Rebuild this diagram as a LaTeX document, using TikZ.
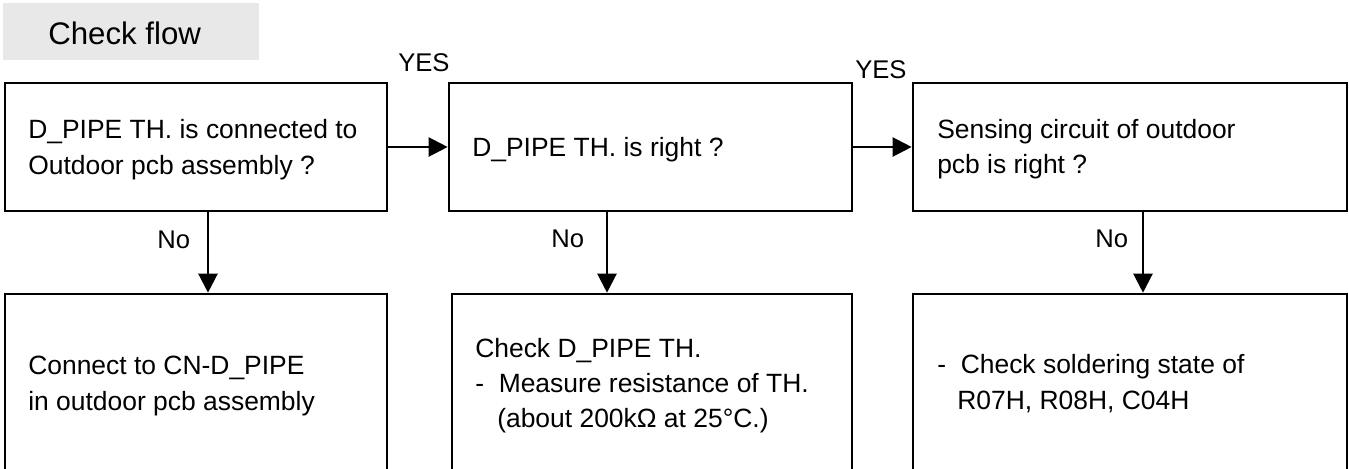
\documentclass[tikz,border=0pt]{standalone}
\usepackage{fontspec}
\setmainfont{Liberation Sans}
\usetikzlibrary{arrows.meta}
\definecolor{titlegray}{RGB}{232,232,232}
\tikzset{
  box/.style={draw, line width=1.8pt, inner sep=0pt},
  txt/.style={anchor=base west, inner sep=0pt, font=\fontsize{18.8pt}{24.9pt}\selectfont},
  lbl/.style={anchor=base west, inner sep=0pt, font=\fontsize{18.2pt}{22pt}\selectfont},
  arr/.style={line width=1.6pt, -{Triangle[length=13.5pt, width=13.5pt]}}
}
\begin{document}
\begin{tikzpicture}[x=0.025cm, y=-0.025cm]
\useasboundingbox (0,0) rectangle (1349,468);
\clip (0,0) rectangle (1349,468);
% title
\fill[titlegray] (3,3) rectangle (259,60);
\node[anchor=base west, inner sep=0pt, font=\fontsize{22.2pt}{26pt}\selectfont] (title) at (48,44) {Check flow};
% top boxes
\node[box, minimum width=9.55cm, minimum height=3.2cm] (b1) at (196,147) {};
\node[box, minimum width=10.075cm, minimum height=3.2cm] (b2) at (650.5,147) {};
\node[box, minimum width=10.85cm, minimum height=3.2cm] (b3) at (1130,147) {};
% bottom boxes (cut by the page edge)
\node[box, minimum width=9.55cm, minimum height=5.65cm] (b4) at (196,407) {};
\node[box, minimum width=10cm, minimum height=5.65cm] (b5) at (652,407) {};
\node[box, minimum width=10.85cm, minimum height=5.65cm] (b6) at (1130,407) {};
% texts
\node[txt] (t1a) at (28,138) {D\_PIPE TH. is connected to};
\node[txt] (t1b) at (28,174) {Outdoor pcb assembly ?};
\node[txt] (t2a) at (472,156) {D\_PIPE TH. is right ?};
\node[txt] (t3a) at (937,138) {Sensing circuit of outdoor};
\node[txt] (t3b) at (937,173) {pcb is right ?};
\node[txt] (t4a) at (28,374) {Connect to CN-D\_PIPE};
\node[txt] (t4b) at (28,410) {in outdoor pcb assembly};
\node[txt] (t5a) at (475,357) {Check D\_PIPE TH.};
\node[txt] (t5b) at (475,392) {-\ \ Measure resistance of TH.};
\node[txt] (t5c) at (497,427) {(about 200kΩ at 25°C.)};
\node[txt] (t6a) at (937,373) {-\ \ Check soldering state of};
\node[txt] (t6b) at (957,409) {R07H, R08H, C04H};
% labels
\node[lbl] (yes1) at (398,71) {YES};
\node[lbl] (yes2) at (855,78) {YES};
\node[lbl] (no1) at (157,248) {No};
\node[lbl] (no2) at (551,247) {No};
\node[lbl] (no3) at (1095,247) {No};
% connectors
\draw[arr] (b1.east) -- (b2.west);
\draw[arr] (b2.east) -- (b3.west);
\coordinate (c1) at (208,211);
\coordinate (c2) at (607,211);
\coordinate (c3) at (1143,211);
\draw[arr] (c1) -- (c1 |- b4.north);
\draw[arr] (c2) -- (c2 |- b5.north);
\draw[arr] (c3) -- (c3 |- b6.north);
\end{tikzpicture}
\end{document}
